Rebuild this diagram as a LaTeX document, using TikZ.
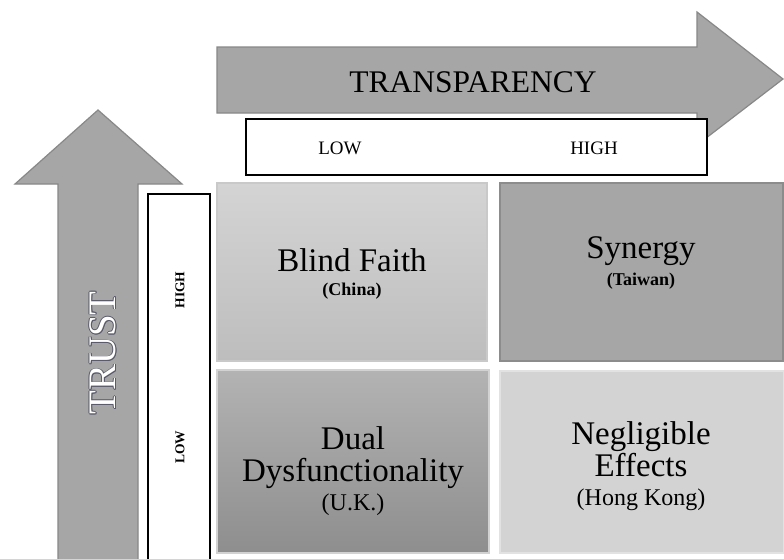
\documentclass[tikz,border=0pt]{standalone}
\usepackage{fontspec}
\setmainfont{Liberation Serif}
\definecolor{arrowfill}{HTML}{A6A6A6}
\definecolor{arrowedge}{HTML}{888888}
\definecolor{bfTop}{HTML}{D4D4D4}
\definecolor{bfBot}{HTML}{BDBDBD}
\definecolor{bfEdge}{HTML}{C9C9C9}
\definecolor{synFill}{HTML}{A6A6A6}
\definecolor{synEdge}{HTML}{8C8C8C}
\definecolor{duTop}{HTML}{B3B3B3}
\definecolor{duBot}{HTML}{8E8E8E}
\definecolor{duEdge}{HTML}{D2D2D2}
\definecolor{neFill}{HTML}{D3D3D3}
\definecolor{neEdge}{HTML}{E2E2E2}
\definecolor{trustline}{HTML}{5A5A6A}
\begin{document}
\begin{tikzpicture}[x=1pt,y=-1pt,
  arrowshape/.style={fill=arrowfill,draw=arrowedge,line width=1.2pt,line join=miter},
  scalebox/.style={draw=black,line width=1.8pt,fill=white,inner sep=0pt},
  quad/.style={inner sep=0pt,line width=1.5pt},
  title/.style={font=\fontsize{33}{33}\selectfont,anchor=base,inner sep=0pt},
  country/.style={font=\fontsize{24}{24}\selectfont,anchor=base,inner sep=0pt},
  countryb/.style={font=\bfseries\fontsize{18}{18}\selectfont,anchor=base,inner sep=0pt},
  scaletext/.style={font=\fontsize{19}{19}\selectfont,anchor=base,inner sep=0pt},
  vscaletext/.style={font=\bfseries\fontsize{13.5}{13.5}\selectfont,rotate=90,inner sep=0pt},
  trusttext/.style={font=\fontsize{39}{39}\selectfont,rotate=90,inner sep=0pt}
]
\useasboundingbox (0,0) rectangle (784,558);
\fill[white] (0,0) rectangle (784,558);

% transparency arrow
\draw[arrowshape] (217,47) -- (697,47) -- (697,12) -- (783,79) -- (697,145) -- (697,113) -- (217,113) -- cycle;
\node[font=\fontsize{31.5}{31.5}\selectfont,anchor=base,inner sep=0pt] (transp) at (473,92) {TRANSPARENCY};

% horizontal scale
\node[scalebox,minimum width=461pt,minimum height=56pt] (tscale) at (476.5,147) {};
\node[scaletext] (tlow) at (340,154) {LOW};
\node[scaletext] (thigh) at (594,154) {HIGH};

% trust arrow
\draw[arrowshape] (58,566) -- (58,184) -- (15,184) -- (98,110) -- (182,184) -- (138,184) -- (138,566) -- cycle;
\foreach \a [count=\i] in {0,45,...,315}
  \node[trusttext,text=trustline,shift={(\a:0.8)}] (trustsh\i) at (103,353) {TRUST};
\node[trusttext,text=white] (trust) at (103,353) {TRUST};

% vertical scale
\node[scalebox,minimum width=62pt,minimum height=373pt,anchor=north west] (vscale) at (147,193) {};
\node[vscaletext] (vhigh) at (180,290) {HIGH};
\node[vscaletext] (vlow) at (180,447) {LOW};

% quadrants
\node[quad,minimum width=270pt,minimum height=178pt,top color=bfTop,bottom color=bfBot,draw=bfEdge] (blind) at (352,272) {};
\node[quad,minimum width=283pt,minimum height=178pt,fill=synFill,draw=synEdge] (syn) at (641.5,272) {};
\node[quad,minimum width=272pt,minimum height=183pt,top color=duTop,bottom color=duBot,draw=duEdge] (dual) at (353,461.5) {};
\node[quad,minimum width=284pt,minimum height=182pt,fill=neFill,draw=neEdge] (neg) at (642,462) {};

\node[title] (blindt) at (352,271) {Blind Faith};
\node[countryb] (blindc) at (352,295) {(China)};

\node[title] (synt) at (641,258) {Synergy};
\node[countryb] (sync) at (641,285) {(Taiwan)};

\node[title] (dualt1) at (353,449) {Dual};
\node[title] (dualt2) at (353,481) {Dysfunctionality};
\node[country] (dualc) at (353,510) {(U.K.)};

\node[title] (negt1) at (641,444) {Negligible};
\node[title] (negt2) at (641,476) {Effects};
\node[country] (negc) at (641,505) {(Hong Kong)};
\end{tikzpicture}
\end{document}
